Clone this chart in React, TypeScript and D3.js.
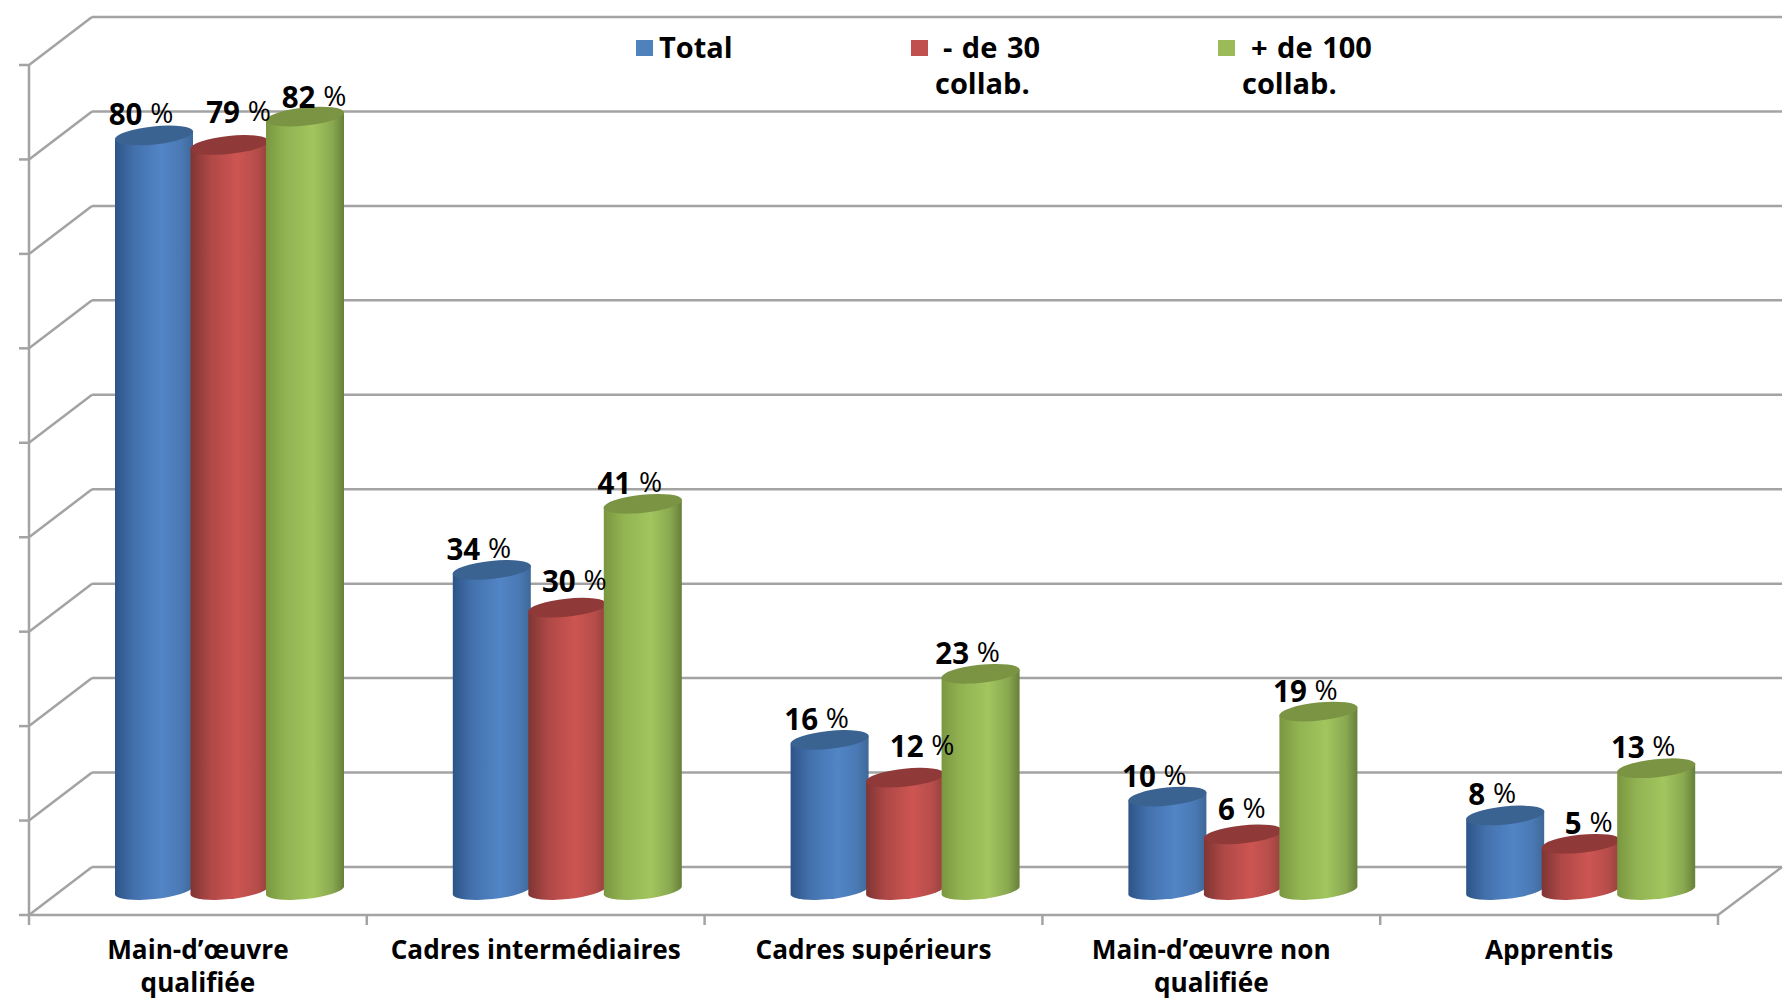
import React from "react";
import * as d3 from "d3";

const WIDTH = 1787;
const HEIGHT = 1008;

const categories = [
  ["Main-d’œuvre", "qualifiée"],
  ["Cadres intermédiaires"],
  ["Cadres supérieurs"],
  ["Main-d’œuvre non", "qualifiée"],
  ["Apprentis"],
];
const total = [80, 34, 16, 10, 8];
const moins30 = [79, 30, 12, 6, 5];
const plus100 = [82, 41, 23, 19, 13];
const yTicks = d3.range(0, 100, 10);

const series = [
  { key: "total", values: total, base: "#5285c6", edge: "#2d5487", edge2: "#3f6898", cap: "#3b6392" },
  { key: "m30", values: moins30, base: "#cd5552", edge: "#7f3533", edge2: "#94403d", cap: "#8f3a38" },
  { key: "p100", values: plus100, base: "#a2c55e", edge: "#7a9740", edge2: "#66803a", cap: "#7a9443" },
];

// hand nudges for the data labels, [dx, dy] from the default spot
const labelNudge: Record<string, [number, number]> = {
  "m30-0": [22, -12],
  "p100-0": [22, 1],
  "m30-1": [20, -6],
  "m30-2": [30, -11],
  "m30-3": [12, -4],
  "m30-4": [21, 0],
};

const GREY = "#a3a3a3";
const FONT = "'Open Sans', sans-serif";

const DX = 63;
const DY = -48;
const BAR_W = 78;
const RX = 39.4;
const RY = 9;
const TILT = 8;
const ROT = -6;

const App = () => {
  const keys = categories.map((c) => c.join(" "));
  const x = d3.scaleBand<string>().domain(keys).range([29, 1718]);
  const y = d3.scaleLinear().domain([0, 90]).range([915, 65]);
  const inner = d3
    .scaleBand<string>()
    .domain(series.map((s) => s.key))
    .range([86, 86 + 226.5]);

  const barBase = y(0) - 20;
  const barY = (v: number) => y(v) - 20;

  const cylinder = (x0: number, top: number) => {
    const x1 = x0 + BAR_W;
    return `M${x0},${barBase} L${x0},${top} L${x1},${top - TILT} L${x1},${barBase - TILT} A${RX},${RY} ${ROT} 0 1 ${x0},${barBase} Z`;
  };

  return (
    <svg
      width={WIDTH}
      height={HEIGHT}
      style={{ position: "absolute", left: 0, top: 0, background: "#fff" }}
    >
      <defs>
        {series.map((s) => (
          <linearGradient key={s.key} id={`grad-${s.key}`} x1="0" x2="1" y1="0" y2="0">
            <stop offset="0" stopColor={s.edge} />
            <stop offset="0.25" stopColor={d3.interpolateRgb(s.edge, s.base)(0.6)} />
            <stop offset="0.6" stopColor={s.base} />
            <stop offset="0.85" stopColor={d3.interpolateRgb(s.edge2, s.base)(0.6)} />
            <stop offset="1" stopColor={s.edge2} />
          </linearGradient>
        ))}
      </defs>

      {/* walls */}
      <g stroke={GREY} strokeWidth={2.5} fill="none">
        {yTicks.map((t) => (
          <g key={t}>
            <line x1={29 + DX} x2={1782} y1={y(t) + DY} y2={y(t) + DY} />
            <line x1={29} x2={29 + DX} y1={y(t)} y2={y(t) + DY} />
            <line x1={19} x2={29} y1={y(t)} y2={y(t)} />
          </g>
        ))}
        <line x1={29} x2={29} y1={y(90)} y2={y(0)} />
        <line x1={29} x2={1718} y1={y(0)} y2={y(0)} />
        <line x1={1718} x2={1782} y1={y(0)} y2={y(0) + DY} />
        {keys.map((k) => (
          <line key={k} x1={x(k)!} x2={x(k)!} y1={y(0)} y2={y(0) + 10} />
        ))}
        <line x1={1718} x2={1718} y1={y(0)} y2={y(0) + 10} />
      </g>

      {/* bars */}
      {keys.map((k, i) => (
        <g key={k}>
          {series.map((s) => {
            const x0 = x(k)! + inner(s.key)!;
            const top = barY(s.values[i]);
            return (
              <g key={s.key}>
                <path d={cylinder(x0, top)} fill={`url(#grad-${s.key})`} />
                <ellipse
                  cx={x0 + BAR_W / 2}
                  cy={top - TILT / 2}
                  rx={RX}
                  ry={RY}
                  fill={s.cap}
                  transform={`rotate(${ROT} ${x0 + BAR_W / 2} ${top - TILT / 2})`}
                />
              </g>
            );
          })}
        </g>
      ))}

      {/* data labels */}
      <g fontFamily={FONT} fontSize={29.5} fontWeight={700} textAnchor="middle" fill="#000">
        {keys.map((k, i) =>
          series.map((s) => {
            const nudge = labelNudge[`${s.key}-${i}`] || [0, 0];
            const cx = x(k)! + inner(s.key)! + BAR_W / 2 - 13 + nudge[0];
            const by = barY(s.values[i]) - 14 + nudge[1];
            return (
              <text key={s.key} x={cx} y={by}>
                {s.values[i]}{" "}
                <tspan fontWeight={500} fontSize={28} dy={-2}>%</tspan>
              </text>
            );
          })
        )}
      </g>

      {/* category labels */}
      <g fontFamily={FONT} fontSize={26.2} fontWeight={700} textAnchor="middle" fill="#000">
        {keys.map((k, i) =>
          categories[i].map((line, j) => (
            <text key={j} x={x(k)! + x.bandwidth() / 2} y={959 + j * 33}>
              {line}
            </text>
          ))
        )}
      </g>

      {/* legend */}
      <g fontFamily={FONT} fontSize={29} fontWeight={700} fill="#000" wordSpacing={2}>
        <rect x={636} y={40} width={17} height={16} fill="#4f81bd" />
        <text x={659} y={58}>Total</text>
        <rect x={911} y={40} width={17} height={16} fill="#c0504d" />
        <text x={943} y={58}>- de 30</text>
        <text x={935} y={94}>collab.</text>
        <rect x={1218} y={40} width={17} height={16} fill="#9bbb59" />
        <text x={1251} y={58}>+ de 100</text>
        <text x={1242} y={94}>collab.</text>
      </g>
    </svg>
  );
};

export default App;
